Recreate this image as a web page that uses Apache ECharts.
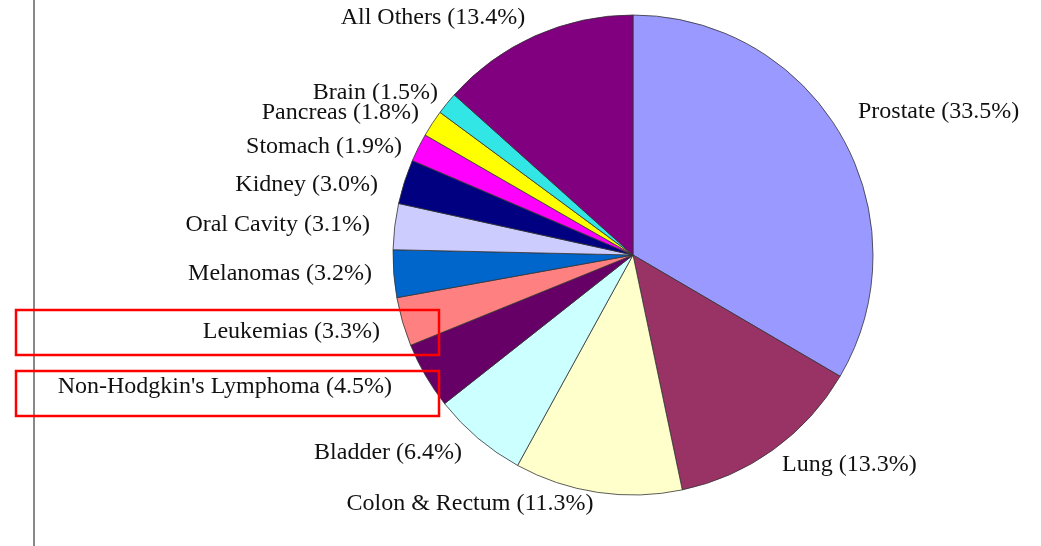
<!DOCTYPE html>
<html>
<head>
<meta charset="utf-8">
<script src="https://cdn.jsdelivr.net/npm/echarts@6/dist/echarts.min.js"></script>
<style>
  html, body { margin: 0; padding: 0; background: #fff; }
  #pie { width: 1041px; height: 546px; }
</style>
</head>
<body>
<div id="pie"></div>
<script>
// cancer sites, clockwise from 12 o'clock
var sites = ['Prostate', 'Lung', 'Colon & Rectum', 'Bladder', "Non-Hodgkin's Lymphoma",
  'Leukemias', 'Melanomas', 'Oral Cavity', 'Kidney', 'Stomach', 'Pancreas', 'Brain', 'All Others'];
var shares = [33.5, 13.3, 11.3, 6.4, 4.5, 3.3, 3.2, 3.1, 3.0, 1.9, 1.8, 1.5, 13.4];
var sliceColors = ['#9999ff', '#993366', '#ffffcc', '#ccffff', '#660066', '#ff8080', '#0066cc',
  '#ccccff', '#000080', '#ff00ff', '#ffff00', '#33e6e6', '#800080'];

// where each label sits (like the excel layout), same order as sites
var labelSpots = [
  [858, 112, 'left'], [782, 465, 'left'], [470, 504, 'center'], [462, 453, 'right'],
  [392, 387, 'right'], [380, 332, 'right'], [372, 274, 'right'], [370, 225, 'right'],
  [378, 185, 'right'], [402, 147, 'right'], [419, 113, 'right'], [438, 93, 'right'],
  [433, 18, 'center']
];

var chartDom = document.getElementById('pie');
var myChart = echarts.init(chartDom);

var option = {
  backgroundColor: '#fff',
  animation: false,
  graphic: [
    // left frame line
    { type: 'line', z: 100, shape: { x1: 34, y1: 0, x2: 34, y2: 546 }, style: { stroke: '#888', lineWidth: 2 } },
    // red highlight boxes, drawn over the pie
    { type: 'rect', z: 100, shape: { x: 16, y: 310, width: 423, height: 45 }, style: { fill: 'none', stroke: '#ff0000', lineWidth: 2.5 } },
    { type: 'rect', z: 100, shape: { x: 16, y: 371, width: 423, height: 45 }, style: { fill: 'none', stroke: '#ff0000', lineWidth: 2.5 } }
  ],
  series: [
    {
      type: 'pie',
      center: [633, 255],
      radius: 240,
      startAngle: 90,
      clockwise: true,
      avoidLabelOverlap: false,
      data: sites.map(function (name, i) {
        return { name: name, value: shares[i], itemStyle: { color: sliceColors[i] } };
      }),
      itemStyle: { borderColor: '#333', borderWidth: 0.8 },
      label: {
        show: true,
        position: 'outside',
        fontFamily: "'Liberation Serif', 'Times New Roman', serif",
        fontSize: 24,
        color: '#111',
        formatter: function (p) { return p.name + ' (' + p.value.toFixed(1) + '%)'; }
      },
      labelLine: { show: false },
      labelLayout: function (params) {
        var s = labelSpots[params.dataIndex];
        return { x: s[0], y: s[1], align: s[2], verticalAlign: 'middle' };
      },
      emphasis: { disabled: true }
    }
  ]
};
option && myChart.setOption(option);
</script>
</body>
</html>
